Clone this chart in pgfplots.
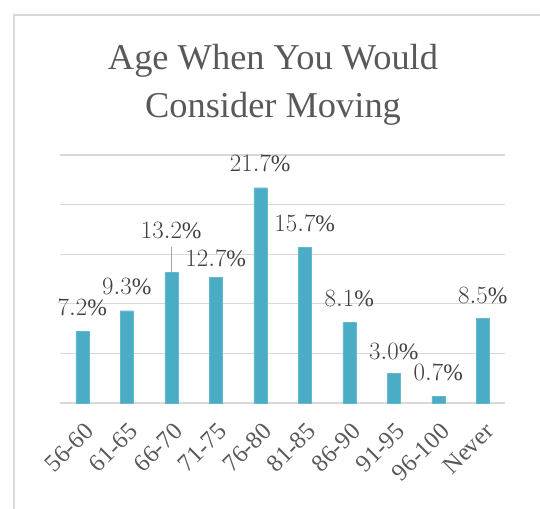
\documentclass[border=0pt]{standalone}
\usepackage{fontspec}
\setmainfont{Liberation Serif}
\usepackage{pgfplots}
\usepackage{pgfplotstable}
\pgfplotsset{compat=1.18}
\definecolor{barc}{HTML}{4BACC6}
\definecolor{gridc}{HTML}{D9D9D9}
\definecolor{titlec}{HTML}{595959}
\definecolor{labc}{HTML}{404040}
\definecolor{leadc}{HTML}{A6A6A6}
\pgfplotstableread{
x y off
0 7.2 24
1 9.3 24
2 13.2 41
3 12.7 18
4 21.7 24
5 15.7 24
6 8.1 24
7 3.0 22
8 0.7 23
9 8.5 23
}\agedata
\begin{document}
\begin{tikzpicture}[x=1pt,y=1pt]
\useasboundingbox (0,0) rectangle (540,508);
\draw[gridc, line width=1.2pt] (14,-5) -- (14,493) -- (545,493);
\node[anchor=base, text=titlec, font=\fontsize{36.4}{40}\selectfont, inner sep=0pt] at (273,438) {Age When You Would};
\node[anchor=base, text=titlec, font=\fontsize{36.4}{40}\selectfont, inner sep=0pt] at (273,390) {Consider Moving};
\begin{axis}[
  at={(60pt,105pt)}, anchor=south west,
  scale only axis, width=445pt, height=248pt,
  xmin=-0.5, xmax=9.5, ymin=0, ymax=25,
  ytick={0,5,...,25}, yticklabels={},
  ymajorgrids, grid style={gridc, line width=1.2pt},
  axis line style={draw=none},
  major tick length=0pt,
  xtick={0,...,9},
  xticklabels={56-60,61-65,66-70,71-75,76-80,81-85,86-90,91-95,96-100,Never},
  xticklabel style={yshift=-17pt, xshift=1pt, rotate=45, anchor=north east, text=titlec, font=\fontsize{24.5}{26}\selectfont, inner sep=1pt},
  clip=false,
]
\addplot[ybar, bar width=13pt, fill=barc, draw=barc!85!white,
  point meta=y,
  visualization depends on={\thisrow{off}\as\labeloff},
  nodes near coords={\pgfmathprintnumber[fixed,fixed zerofill,precision=1]{\pgfplotspointmeta}\%},
  nodes near coords style={anchor=center, yshift=\labeloff pt, text=labc, font=\fontsize{23.5}{25}\selectfont},
] table[x=x,y=y] {\agedata};
\draw[leadc, line width=0.8pt] (axis cs:2,13.2) -- (axis cs:2,15.7);
\end{axis}
\end{tikzpicture}
\end{document}
